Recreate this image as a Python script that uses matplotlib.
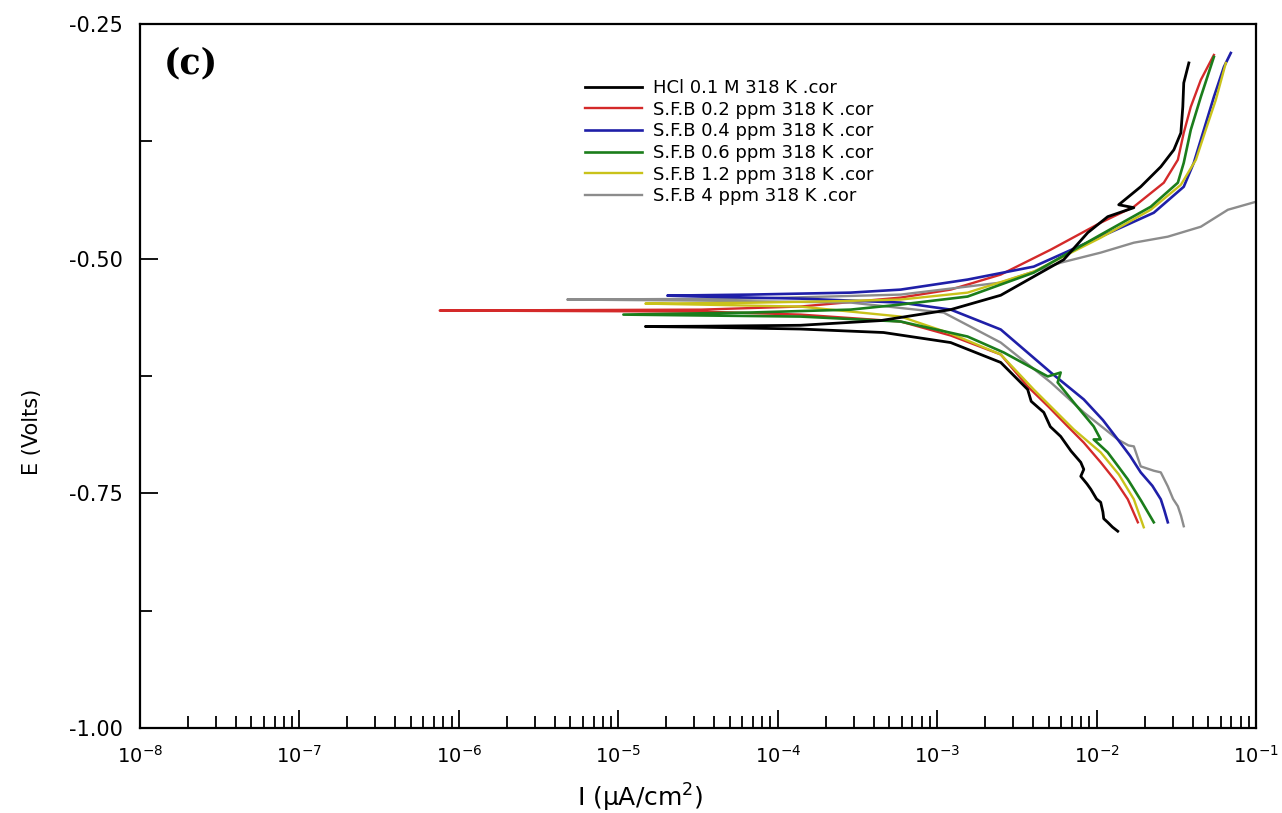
import matplotlib.pyplot as plt
import numpy as np
from matplotlib.ticker import FixedLocator, NullFormatter

plt.rcParams["font.family"] = ["DejaVu Sans"]
plt.rcParams["mathtext.default"] = "regular"
plt.rcParams["axes.unicode_minus"] = False

# Tafel scans: log10 of current (uA/cm2) and potential (V), cathodic end -> Ecorr -> anodic end
hcl_logi = [-1.867, -1.900, -1.930, -1.955, -1.960, -1.974, -2.000, -2.036, -2.060,
            -2.099, -2.080, -2.099, -2.160, -2.225, -2.290, -2.331, -2.410, -2.432,
            -2.601, -2.915, -3.336, -3.857, -4.480, -4.830,
            -4.480, -3.857, -3.355, -2.915, -2.601, -2.350, -2.206, -2.055, -1.930,
            -1.766, -1.861, -1.723, -1.597, -1.515, -1.471, -1.459, -1.453, -1.421]
hcl_e = [-0.7904, -0.7860, -0.7809, -0.7770, -0.7700, -0.7596, -0.7560, -0.7457, -0.7400,
         -0.7319, -0.7245, -0.7170, -0.7050, -0.6894, -0.6790, -0.6638, -0.6520, -0.6394,
         -0.6106, -0.5894, -0.5787, -0.5750, -0.5730, -0.5723,
         -0.5720, -0.5710, -0.5660, -0.5543, -0.5390, -0.5149, -0.5011, -0.4723, -0.4553,
         -0.4457, -0.4426, -0.4234, -0.4021, -0.3840, -0.3660, -0.3383, -0.3128, -0.2915]

sfb02_logi = [-1.741, -1.804, -1.880, -1.974, -2.080, -2.181, -2.300, -2.432, -2.601,
              -2.915, -3.229, -3.857, -4.480, -6.120,
              -4.480, -3.857, -3.229, -2.915, -2.601, -2.287, -1.974, -1.766, -1.578,
              -1.490, -1.453, -1.409, -1.346, -1.264]
sfb02_e = [-0.7809, -0.7564, -0.7370, -0.7170, -0.6960, -0.6787, -0.6580, -0.6362, -0.6021,
           -0.5819, -0.5670, -0.5596, -0.5564, -0.5553,
           -0.5543, -0.5510, -0.5415, -0.5330, -0.5170, -0.4904, -0.4617, -0.4447, -0.4191,
           -0.3947, -0.3660, -0.3383, -0.3096, -0.2830]

sfb04_logi = [-1.553, -1.575, -1.597, -1.650, -1.723, -1.790, -1.867, -1.960, -2.080,
              -2.287, -2.601, -2.915, -3.229, -3.857, -4.480, -4.692,
              -4.171, -3.543, -3.229, -2.809, -2.394, -1.974, -1.641, -1.453, -1.390,
              -1.327, -1.264, -1.201, -1.158]
sfb04_e = [-0.7809, -0.7680, -0.7564, -0.7420, -0.7277, -0.7100, -0.6926, -0.6720, -0.6500,
           -0.6213, -0.5755, -0.5543, -0.5468, -0.5426, -0.5404, -0.5394,
           -0.5383, -0.5362, -0.5330, -0.5223, -0.5085, -0.4766, -0.4511, -0.4234, -0.3979,
           -0.3628, -0.3277, -0.2957, -0.2809]

sfb06_logi = [-1.641, -1.720, -1.804, -1.870, -1.930, -2.018, -1.974, -2.018, -2.143,
              -2.244, -2.225, -2.306, -2.582, -2.809, -3.229, -3.857, -4.968,
              -4.171, -3.543, -3.229, -2.809, -2.394, -1.974, -1.660, -1.490, -1.453,
              -1.409, -1.346, -1.264]
sfb06_e = [-0.7809, -0.7580, -0.7351, -0.7200, -0.7064, -0.6926, -0.6926, -0.6787, -0.6532,
           -0.6319, -0.6213, -0.6255, -0.6000, -0.5830, -0.5670, -0.5617, -0.5596,
           -0.5574, -0.5543, -0.5489, -0.5404, -0.5149, -0.4745, -0.4447, -0.4191, -0.3979,
           -0.3628, -0.3277, -0.2851]

sfb12_logi = [-1.704, -1.766, -1.860, -1.974, -2.143, -2.394, -2.601, -2.915, -3.229,
              -3.857, -4.480, -4.830,
              -4.171, -3.543, -3.229, -2.809, -2.394, -1.974, -1.660, -1.471, -1.377,
              -1.315, -1.252, -1.189]
sfb12_e = [-0.7862, -0.7564, -0.7300, -0.7064, -0.6819, -0.6394, -0.6021, -0.5798, -0.5617,
           -0.5511, -0.5490, -0.5479,
           -0.5470, -0.5450, -0.5436, -0.5362, -0.5138, -0.4777, -0.4479, -0.4213, -0.3947,
           -0.3628, -0.3309, -0.2915]

sfb4_logi = [-1.453, -1.470, -1.490, -1.520, -1.553, -1.597, -1.640, -1.723, -1.766,
             -1.800, -1.867, -1.960, -2.080, -2.287, -2.601, -2.959, -3.543, -4.480, -5.320,
             -4.171, -3.229, -2.601, -2.225, -1.974, -1.766, -1.553, -1.346, -1.176, -1.000]
sfb4_e = [-0.7851, -0.7740, -0.7638, -0.7560, -0.7426, -0.7277, -0.7260, -0.7213, -0.7000,
          -0.6990, -0.6926, -0.6800, -0.6638, -0.6319, -0.5894, -0.5575, -0.5468, -0.5447, -0.5436,
          -0.5426, -0.5383, -0.5255, -0.5043, -0.4936, -0.4830, -0.4766, -0.4660, -0.4479, -0.4394]

series = [
    ("HCl 0.1 M 318 K .cor", hcl_logi, hcl_e, "#000000", 2.0, 6),
    ("S.F.B 0.2 ppm 318 K .cor", sfb02_logi, sfb02_e, "#d42a2a", 1.7, 2),
    ("S.F.B 0.4 ppm 318 K .cor", sfb04_logi, sfb04_e, "#1f1fa8", 1.9, 3),
    ("S.F.B 0.6 ppm 318 K .cor", sfb06_logi, sfb06_e, "#1b7d1b", 1.9, 4),
    ("S.F.B 1.2 ppm 318 K .cor", sfb12_logi, sfb12_e, "#c9c21a", 1.7, 3.5),
    ("S.F.B 4 ppm 318 K .cor", sfb4_logi, sfb4_e, "#8c8c8c", 1.7, 2.5),
]

fig = plt.figure(figsize=(12.82, 8.13), dpi=100)
ax = fig.add_axes([0.1092, 0.1046, 0.8705, 0.8659])

for label, logi, e, color, lw, z in series:
    ax.plot(10 ** np.array(logi), e, color=color, lw=lw, label=label, zorder=z)

ax.set_xscale("log")
ax.set_xlim(1e-8, 1e-1)
ax.set_ylim(-1.0, -0.25)

decades = np.arange(-8, 0)
ax.xaxis.set_major_locator(FixedLocator(10.0 ** decades))
ax.xaxis.set_minor_locator(FixedLocator([m * 10.0 ** d for d in decades[:-1] for m in range(2, 10)]))
ax.xaxis.set_minor_formatter(NullFormatter())
ax.set_xticklabels([f"$10^{{{d}}}$" for d in decades])
ax.yaxis.set_major_locator(FixedLocator([-1.0, -0.75, -0.5, -0.25]))
ax.yaxis.set_minor_locator(FixedLocator([-0.875, -0.625, -0.375]))
ax.set_yticklabels(["-1.00", "-0.75", "-0.50", "-0.25"])

ax.tick_params(axis="both", which="major", direction="in", length=13, width=1.3,
               labelsize=15, top=False, right=False)
ax.tick_params(axis="x", which="major", labelsize=14, pad=12)
ax.tick_params(axis="both", which="minor", direction="in", length=8.5, width=1.3,
               top=False, right=False)
ax.tick_params(axis="y", which="major", pad=12)
for sp in ax.spines.values():
    sp.set_linewidth(1.6)

ax.set_xlabel("I (μA/cm$^{2}$)", fontsize=18)
ax.xaxis.set_label_coords(0.448, -0.076)
ax.set_ylabel("E (Volts)", fontsize=15)
ax.yaxis.set_label_coords(-0.088, 0.42)

ax.text(0.021, 0.968, "(c)", transform=ax.transAxes, fontsize=25, fontweight="bold",
        family="DejaVu Serif", va="top", ha="left")

ax.legend(loc="upper left", bbox_to_anchor=(0.392, 0.932), frameon=False, fontsize=13,
          handlelength=3.2, handletextpad=0.6, labelspacing=0.2, borderaxespad=0)

fig.savefig("out.png", dpi=100)
